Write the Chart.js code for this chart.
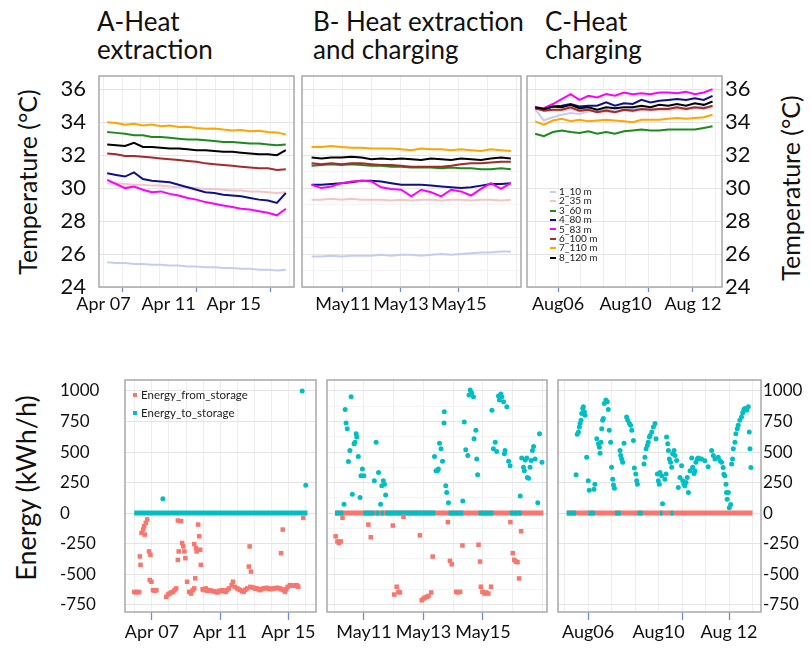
<!DOCTYPE html>
<html>
<head>
<meta charset="utf-8">
<script src="https://cdn.jsdelivr.net/npm/chart.js@4.4.1/dist/chart.umd.min.js"></script>
<style>
  body { margin: 0; background: #fff; font-family: Lato, "Open Sans", sans-serif; }
  #wrap { position: relative; width: 811px; height: 649px; overflow: hidden; }
  canvas { position: absolute; }
  .title { position: absolute; font-size: 26px; line-height: 28px; color: #111; white-space: nowrap; }
  .ylab { position: absolute; transform: translate(-50%, -50%) rotate(-90deg); white-space: nowrap; color: #111; }
  .legend { position: absolute; color: #222; white-space: nowrap; }
  .legend div { display: flex; align-items: center; }
  .dash { display: inline-block; width: 6px; height: 2px; margin-right: 3px; }
  .dot { display: inline-block; width: 4px; height: 4px; margin-right: 4px; }
</style>
</head>
<body>
<div id="wrap">
  <div class="title" style="left:97px; top:7px;">A-Heat<br>extraction</div>
  <div class="title" style="left:313px; top:7px;">B- Heat extraction<br>and charging</div>
  <div class="title" style="left:545px; top:7px;">C-Heat<br>charging</div>

  <div class="ylab" style="left:27px; top:182px; font-size:25px;">Temperature (°C)</div>
  <div class="ylab" style="left:790px; top:188px; font-size:25px;">Temperature (°C)</div>
  <div class="ylab" style="left:25px; top:488px; font-size:27px;">Energy (kWh/h)</div>

  <canvas id="tA" width="300" height="260" style="left:0; top:60px;"></canvas>
  <canvas id="tB" width="225" height="260" style="left:300px; top:60px;"></canvas>
  <canvas id="tC" width="286" height="260" style="left:525px; top:60px;"></canvas>
  <canvas id="eA" width="320" height="289" style="left:0; top:360px;"></canvas>
  <canvas id="eB" width="230" height="289" style="left:322px; top:360px;"></canvas>
  <canvas id="eC" width="259" height="289" style="left:552px; top:360px;"></canvas>

  <div class="legend" id="tempLegend" style="left:550px; top:187px; font-size:10px; line-height:9.4px;"></div>
  <div class="legend" id="energyLegend" style="left:133px; top:386px; font-size:11.5px; line-height:18px;"></div>
</div>
<script>
// ---- series / categories ----
const seriesNames = ['1_10 m', '2_35 m', '3_60 m', '4_80 m', '5_83 m', '6_100 m', '7_110 m', '8_120 m'];
const seriesColors = ['#c3cdf2', '#f6c4c4', '#1e8a1e', '#10108a', '#ff00ff', '#a52a2a', '#ffa500', '#000000'];
const energyNames = ['Energy_from_storage', 'Energy_to_storage'];
const energyColors = ['#f8766d', '#00bfc4'];

// ---- tick marks (day of month) and where their labels sit ----
const aprTicks = [7, 11, 15];
const aprLabels = ['Apr 07', 'Apr 11', 'Apr 15'];
const aprLabelDaysTop = [6, 9.5, 13];
const aprLabelDays = [7, 11, 15];
const mayTicks = [11, 13, 15];
const mayLabels = ['May11', 'May13', 'May15'];
const mayLabelDays = [11, 13, 15];
const augTicks = [6, 10, 12];
const augLabels = ['Aug06', 'Aug10', 'Aug 12'];
const augLabelDays = [6, 9, 12];

// ---- temperature (day of month) ----
const daysA = [6.2, 6.68, 7.16, 7.64, 8.12, 8.6, 9.08, 9.56, 10.04, 10.52, 11.0, 11.48, 11.96, 12.44, 12.92, 13.4, 13.88, 14.36, 14.84, 15.32, 15.8];
const tempA = [
  [25.5, 25.45, 25.45, 25.4, 25.4, 25.35, 25.35, 25.3, 25.3, 25.25, 25.25, 25.2, 25.2, 25.15, 25.15, 25.1, 25.1, 25.05, 25.05, 25.0, 25.05],
  [30.3, 30.3, 30.25, 30.2, 30.2, 30.15, 30.15, 30.1, 30.05, 30.05, 30.0, 29.95, 29.95, 29.9, 29.85, 29.85, 29.8, 29.8, 29.75, 29.7, 29.75],
  [33.4, 33.35, 33.3, 33.2, 33.2, 33.1, 33.1, 33.05, 33.0, 32.95, 32.95, 32.9, 32.85, 32.8, 32.8, 32.75, 32.7, 32.7, 32.65, 32.6, 32.65],
  [30.9, 30.8, 30.7, 30.95, 30.55, 30.45, 30.4, 30.35, 30.2, 30.05, 29.9, 29.75, 29.7, 29.6, 29.55, 29.5, 29.4, 29.3, 29.25, 29.1, 29.7],
  [30.5, 30.25, 30.0, 30.1, 29.9, 29.75, 29.8, 29.65, 29.55, 29.4, 29.3, 29.15, 29.05, 28.95, 28.85, 28.75, 28.7, 28.6, 28.5, 28.35, 28.75],
  [32.1, 32.05, 31.95, 31.95, 31.9, 31.85, 31.8, 31.75, 31.7, 31.65, 31.6, 31.5, 31.45, 31.4, 31.35, 31.3, 31.25, 31.2, 31.2, 31.1, 31.15],
  [34.0, 33.95, 33.85, 33.9, 33.8, 33.85, 33.75, 33.8, 33.7, 33.72, 33.65, 33.6, 33.62, 33.55, 33.5, 33.52, 33.45, 33.48, 33.4, 33.38, 33.25],
  [32.65, 32.6, 32.55, 32.75, 32.5, 32.5, 32.45, 32.4, 32.4, 32.35, 32.3, 32.3, 32.25, 32.2, 32.2, 32.15, 32.1, 32.05, 32.05, 32.0, 32.3]
];

const daysB = [9.92, 10.26, 10.6, 10.95, 11.29, 11.64, 11.98, 12.32, 12.67, 13.01, 13.36, 13.7, 14.04, 14.39, 14.73, 15.07, 15.42, 15.76, 16.1, 16.45, 16.79];
const tempB = [
  [25.85, 25.85, 25.9, 25.85, 25.9, 25.9, 25.9, 25.95, 25.9, 25.95, 25.95, 25.9, 25.95, 26.0, 25.95, 26.0, 26.05, 26.1, 26.1, 26.15, 26.15],
  [29.3, 29.3, 29.35, 29.3, 29.35, 29.3, 29.3, 29.3, 29.25, 29.3, 29.25, 29.3, 29.3, 29.25, 29.3, 29.3, 29.25, 29.3, 29.3, 29.25, 29.3],
  [31.35, 31.4, 31.45, 31.4, 31.45, 31.4, 31.35, 31.35, 31.3, 31.3, 31.25, 31.25, 31.25, 31.2, 31.25, 31.2, 31.2, 31.15, 31.15, 31.2, 31.15],
  [30.2, 30.2, 30.25, 30.3, 30.35, 30.45, 30.45, 30.4, 30.3, 30.2, 30.2, 30.2, 30.15, 30.1, 30.05, 30.0, 30.05, 30.15, 30.25, 30.25, 30.3],
  [30.2, 30.0, 30.1, 30.3, 30.4, 30.45, 30.4, 30.05, 29.95, 29.9, 29.5, 29.9, 29.75, 29.5, 29.9, 29.8, 29.55, 29.95, 30.3, 29.95, 30.3],
  [31.5, 31.45, 31.5, 31.45, 31.5, 31.5, 31.45, 31.4, 31.4, 31.35, 31.3, 31.3, 31.3, 31.3, 31.35, 31.45, 31.5, 31.5, 31.55, 31.6, 31.6],
  [32.5, 32.5, 32.55, 32.5, 32.45, 32.45, 32.4, 32.4, 32.4, 32.35, 32.3, 32.4, 32.35, 32.35, 32.3, 32.35, 32.3, 32.25, 32.35, 32.3, 32.25],
  [31.85, 31.8, 31.85, 31.85, 31.9, 31.85, 31.75, 31.8, 31.75, 31.8, 31.75, 31.7, 31.8, 31.75, 31.7, 31.8, 31.75, 31.7, 31.8, 31.85, 31.8]
];

const daysC = [4.98, 5.37, 5.77, 6.16, 6.56, 6.95, 7.35, 7.74, 8.14, 8.53, 8.93, 9.32, 9.71, 10.11, 10.5, 10.9, 11.29, 11.69, 12.08, 12.48, 12.87];
const tempC = [
  [34.8, 34.1, 34.3, 34.45, 34.55, 34.5, 34.65, 34.7, 34.75, 34.7, 34.75, 34.8, 34.85, 34.8, 34.85, 34.85, 34.9, 34.85, 34.9, 34.9, 34.95],
  [34.8, 34.7, 34.7, 34.7, 34.8, 34.65, 34.7, 34.6, 34.65, 34.6, 34.7, 34.65, 34.75, 34.7, 34.75, 34.75, 34.8, 34.75, 34.85, 34.8, 34.9],
  [33.3, 33.15, 33.4, 33.5, 33.4, 33.35, 33.45, 33.3, 33.4, 33.3, 33.45, 33.5, 33.55, 33.5, 33.5, 33.55, 33.55, 33.55, 33.55, 33.65, 33.75],
  [34.85, 34.75, 34.95, 35.0, 35.1, 34.95, 35.0, 35.0, 35.2, 35.0, 35.15, 35.1, 35.35, 35.2, 35.3, 35.35, 35.4, 35.35, 35.45, 35.35, 35.6],
  [34.9, 34.85, 35.1, 35.4, 35.7, 35.35, 35.6, 35.5, 35.7, 35.6, 35.8, 35.7, 35.75, 35.7, 35.8, 35.8, 35.75, 35.85, 35.7, 35.8, 36.0],
  [34.85, 34.7, 34.75, 34.75, 34.9, 34.7, 34.75, 34.6, 34.7, 34.6, 34.75, 34.7, 34.8, 34.75, 34.8, 34.8, 34.9, 34.8, 34.9, 34.85, 35.0],
  [34.05, 33.85, 34.1, 34.2, 34.05, 34.15, 34.05, 34.1, 34.15, 34.1, 34.05, 34.0, 34.15, 34.15, 34.15, 34.2, 34.25, 34.2, 34.25, 34.3, 34.45],
  [34.9, 34.8, 34.95, 34.9, 35.05, 34.85, 34.9, 34.75, 34.9, 34.85, 34.9, 34.9, 35.0, 34.9, 35.05, 35.0, 35.1, 35.0, 35.15, 35.05, 35.25]
];

// ---- energy points [day, kWh/h] ----
const fromA = [
  [5.96, -645], [6.06, -650], [6.16, -645], [6.25, -648], [6.29, -355], [6.33, -424], [6.39, -163], [6.48, -135],
  [6.54, -108], [6.64, -80], [6.72, -52], [6.58, -176], [6.83, -314], [6.91, -342], [6.87, -548], [6.97, -562],
  [7.06, -631], [7.16, -636], [7.26, -631], [7.84, -686], [7.94, -667], [8.03, -659], [8.13, -650], [8.23, -645],
  [8.32, -631], [8.42, -617], [8.52, -383], [8.57, -314], [8.52, -61], [8.71, -66], [8.77, -245], [8.84, -273],
  [8.9, -314], [8.96, -369], [9.06, -562], [9.19, -645], [9.29, -659], [9.39, -631], [9.48, -617], [9.48, -254],
  [9.58, -287], [9.62, -314], [9.71, -94], [9.77, -190], [9.83, -300], [9.87, -424], [9.54, -534],
  [9.97, -623], [10.01, -628], [10.06, -631], [10.11, -625], [10.16, -617], [10.25, -636], [10.35, -631], [10.45, -634],
  [10.55, -639], [10.64, -641], [10.74, -645], [10.84, -650], [10.93, -636], [11.03, -640], [11.13, -631], [11.22, -638],
  [11.32, -645], [11.42, -631], [11.51, -617], [11.67, -590], [11.75, -562], [11.86, -604], [12.0, -617], [12.09, -625],
  [12.19, -631], [12.29, -640], [12.38, -645], [12.48, -628], [12.58, -617], [12.77, -604], [12.87, -610], [12.97, -612],
  [13.06, -620], [13.16, -617], [13.26, -625], [13.35, -631], [13.45, -622], [13.55, -617], [13.64, -615], [13.74, -612],
  [13.84, -618], [13.93, -623], [14.03, -620], [14.13, -617], [14.22, -615], [14.32, -612], [14.42, -614], [14.51, -617],
  [14.61, -625], [14.71, -631], [14.8, -645], [14.88, -625], [14.96, -604], [15.09, -590], [15.19, -592], [15.29, -595],
  [15.38, -592], [15.48, -590], [15.53, -598], [15.58, -604], [12.73, -273], [12.68, -438], [12.81, -479], [14.57, -328],
  [14.67, -135], [15.87, -39]
];
const toA = [[7.64, 118], [15.81, 1000], [16.02, 229]];
const redZeroA = [];
const cyanZeroA = [[5.96, 16.12]];

const fromB = [
  [10.05, -190], [10.11, -232], [10.16, -245], [10.22, -232], [10.28, -39], [11.15, -94], [11.23, -198], [11.97, -102],
  [12.33, -30], [12.88, -182], [12.94, -714], [13.0, -700], [13.05, -692], [13.11, -686], [13.17, -678], [13.26, -650],
  [13.31, -356], [13.82, -74], [13.89, -391], [13.95, -419], [14.1, -645], [14.15, -650], [14.23, -645], [14.31, -265],
  [14.85, -259], [14.9, -397], [14.93, -603], [14.98, -645], [15.05, -659], [15.11, -650], [15.18, -659], [15.27, -603],
  [15.92, -74], [16.0, -328], [16.05, -383], [16.1, -397], [16.16, -402], [16.21, -535], [16.28, -149],
  [12.02, -667], [12.1, -603], [12.16, -645], [12.21, -650]
];
const toB = [
  [10.33, 72], [10.37, 848], [10.4, 738], [10.44, 691], [10.48, 422], [10.53, 512], [10.57, 953], [10.61, 154],
  [10.67, 568], [10.7, 581], [10.74, 650], [10.76, 623], [10.81, 463], [10.87, 127], [10.9, 306], [10.95, 361],
  [11.0, 306], [11.35, 264], [11.41, 581], [11.49, 333], [11.56, 72], [11.6, 223], [11.65, 264], [11.69, 237],
  [11.73, 149], [13.37, 463], [13.42, 347], [13.47, 347], [13.5, 361], [13.54, 573], [13.59, 526], [13.64, 424],
  [13.69, 738], [13.7, 829], [13.75, 223], [13.78, 168], [13.84, 85], [14.32, 99], [14.37, 747], [14.42, 518],
  [14.49, 471], [14.53, 967], [14.57, 1008], [14.62, 986], [14.68, 953], [14.7, 609], [14.76, 678], [14.79, 443],
  [14.82, 314], [15.3, 843], [15.35, 526], [15.41, 581], [15.46, 504], [15.52, 959], [15.55, 926], [15.6, 975],
  [15.63, 953], [15.69, 912], [15.72, 485], [15.74, 512], [15.8, 871], [15.86, 424], [15.91, 388], [16.25, 140],
  [16.3, 452], [16.36, 375], [16.39, 347], [16.42, 435], [16.47, 452], [16.49, 292], [16.53, 286], [16.58, 375],
  [16.62, 430], [16.66, 512], [16.7, 545], [16.75, 443], [16.84, 85], [16.9, 650], [16.98, 416]
];
const redZeroB = [[10.03, 17.03]];
const cyanZeroB = [[10.03, 10.31], [10.98, 11.35], [11.39, 11.52], [11.56, 11.67], [11.71, 13.39], [13.84, 14.34], [14.85, 15.35], [15.91, 16.3]];

const fromC = [];
const toC = [
  [5.49, 314], [5.54, 645], [5.59, 664], [5.63, 705], [5.66, 733], [5.7, 760], [5.73, 815], [5.77, 857],
  [5.8, 871], [5.84, 829], [5.87, 802], [5.94, 457], [6.01, 264], [6.05, 187], [6.25, 196], [6.29, 237],
  [6.37, 609], [6.44, 568], [6.48, 540], [6.51, 490], [6.55, 581], [6.58, 691], [6.62, 760], [6.65, 774],
  [6.69, 898], [6.76, 926], [6.82, 912], [6.86, 848], [6.9, 678], [6.96, 581], [7.0, 375], [7.05, 278],
  [7.08, 231], [7.12, 204], [7.36, 512], [7.39, 471], [7.43, 443], [7.47, 416], [7.53, 573], [7.64, 788],
  [7.69, 760], [7.76, 733], [7.81, 719], [7.86, 678], [7.93, 595], [7.97, 369], [8.03, 320], [8.07, 264],
  [8.1, 237], [8.38, 402], [8.42, 457], [8.47, 526], [8.52, 554], [8.56, 581], [8.61, 623], [8.64, 636],
  [8.71, 664], [8.78, 705], [8.85, 733], [8.89, 609], [8.95, 320], [8.99, 264], [9.03, 237], [9.06, 333],
  [9.13, 306], [9.17, 77], [9.27, 278], [9.32, 320], [9.34, 623], [9.39, 568], [9.42, 512], [9.46, 443],
  [9.51, 416], [9.56, 375], [9.6, 485], [9.66, 512], [9.7, 471], [9.77, 430], [9.84, 209], [9.91, 292],
  [9.98, 388], [10.03, 264], [10.08, 237], [10.12, 223], [10.17, 251], [10.22, 292], [10.27, 168], [10.34, 347],
  [10.41, 452], [10.45, 375], [10.51, 325], [10.55, 347], [10.59, 416], [10.65, 443], [10.69, 452], [10.76, 443],
  [10.83, 443], [10.97, 429], [11.11, 380], [11.26, 512], [11.33, 471], [11.4, 443], [11.54, 457], [11.61, 429],
  [11.68, 416], [11.75, 374], [11.78, 319], [11.82, 306], [11.87, 237], [11.89, 168], [11.92, 113], [11.97, 168],
  [12.01, 44], [12.07, 71], [12.11, 402], [12.15, 443], [12.18, 526], [12.25, 581], [12.29, 650], [12.35, 691],
  [12.39, 719], [12.46, 760], [12.53, 788], [12.58, 821], [12.63, 848], [12.67, 857], [12.75, 843], [12.82, 870],
  [12.86, 664], [12.89, 526], [12.93, 374]
];
const redZeroC = [[5.09, 13.0]];
const cyanZeroC = [[5.09, 5.49], [6.01, 6.29], [7.15, 7.39], [8.1, 8.32], [9.06, 9.17], [9.51, 9.63]];

// ---- helpers ----
Chart.defaults.font.family = 'Lato, "Open Sans", sans-serif';
Chart.defaults.color = '#111';

const panelBox = {
  id: 'panelBox',
  afterDraw(chart) {
    const { ctx, chartArea: a } = chart;
    ctx.save();
    ctx.strokeStyle = '#a8a8a8';
    ctx.lineWidth = 1.5;
    ctx.strokeRect(a.left, a.top, a.right - a.left, a.bottom - a.top);
    ctx.restore();
  }
};

function xAxis(min, max, step, ticks, labelDays, labels, tickLen, h) {
  return {
    type: 'linear', min: min, max: max,
    afterFit: s => { s.height = h; s.paddingLeft = 0; s.paddingRight = 0; },
    border: { display: false },
    grid: {
      color: c => (Number.isInteger(c.tick.value) ? '#eeeeee' : 'rgba(0,0,0,0)'),
      tickLength: tickLen,
      tickWidth: 1.3,
      tickColor: c => (c.tick && ticks.includes(c.tick.value)) ? '#6f8ed8' : 'rgba(0,0,0,0)'
    },
    ticks: {
      stepSize: step, includeBounds: false, autoSkip: false, maxRotation: 0, padding: 1,
      font: { size: 18 },
      callback: v => { const i = labelDays.indexOf(v); return i < 0 ? '' : labels[i]; }
    }
  };
}

function yTemp(position, show, w, pad) {
  return {
    type: 'linear', position: position, min: 24, max: 36.8,
    afterFit: s => { s.width = w; s.paddingTop = 0; s.paddingBottom = 0; },
    border: { display: false },
    grid: { drawTicks: false, color: c => (c.tick.value % 2 === 0 ? '#e4e4e4' : '#f3f3f3') },
    ticks: {
      display: show, stepSize: 1, includeBounds: false, padding: pad,
      font: { size: 22 },
      callback: v => (v % 2 === 0 ? String(v) : '')
    }
  };
}

function yEnergy(position, show, w, pad, crossAlign) {
  return {
    type: 'linear', position: position, min: -810, max: 1090,
    afterFit: s => { s.width = w; s.paddingTop = 0; s.paddingBottom = 0; },
    border: { display: false },
    grid: { drawTicks: false, color: c => (Math.abs(c.tick.value) % 250 === 0 ? '#e4e4e4' : '#f3f3f3') },
    ticks: {
      display: show, stepSize: 125, includeBounds: false, padding: pad, crossAlign: crossAlign,
      font: { size: 17 },
      callback: v => (Math.abs(v) % 250 === 0 ? String(v) : '')
    }
  };
}

function baseOptions(pad, x, y) {
  return {
    responsive: false, animation: false, devicePixelRatio: 1,
    layout: { padding: pad },
    plugins: { legend: { display: false }, tooltip: { enabled: false } },
    scales: { x: x, y: y }
  };
}

function tempSets(days, temps) {
  return temps.map((vals, i) => ({
    label: seriesNames[i],
    data: days.map((d, j) => ({ x: d, y: vals[j] })),
    borderColor: seriesColors[i],
    borderWidth: 2,
    pointRadius: 0,
    tension: 0,
    order: seriesNames.length - i
  }));
}

function zeroLine(seg, color, order) {
  return {
    data: [{ x: seg[0], y: 0 }, { x: seg[1], y: 0 }],
    showLine: true, borderColor: color, borderWidth: 5, pointRadius: 0, order: order
  };
}

function energySets(fromPts, toPts, redZero, cyanZero) {
  const sets = [];
  redZero.forEach(s => sets.push(zeroLine(s, energyColors[0], 4)));
  cyanZero.forEach(s => sets.push(zeroLine(s, energyColors[1], 3)));
  sets.push({
    label: energyNames[0], data: fromPts.map(p => ({ x: p[0], y: p[1] })),
    backgroundColor: energyColors[0], borderColor: energyColors[0], borderWidth: 0,
    pointStyle: 'rect', pointRadius: 3.2, order: 2
  });
  sets.push({
    label: energyNames[1], data: toPts.map(p => ({ x: p[0], y: p[1] })),
    backgroundColor: energyColors[1], borderColor: energyColors[1], borderWidth: 0,
    pointStyle: 'circle', pointRadius: 2.5, order: 1
  });
  return sets;
}

// ---- temperature panels ----
new Chart(document.getElementById('tA'), {
  type: 'line', data: { datasets: tempSets(daysA, tempA) },
  options: baseOptions({ left: 0, right: 6, top: 16, bottom: 0 },
    xAxis(5.76, 16.24, 0.5, aprTicks, aprLabelDaysTop, aprLabels, 5, 33), yTemp('left', true, 99, 13)),
  plugins: [panelBox]
});
new Chart(document.getElementById('tB'), {
  type: 'line', data: { datasets: tempSets(daysB, tempB) },
  options: baseOptions({ left: 2, right: 4, top: 16, bottom: 0 },
    xAxis(9.59, 17.14, 1, mayTicks, mayLabelDays, mayLabels, 5, 33), yTemp('left', false, 0, 0)),
  plugins: [panelBox]
});
new Chart(document.getElementById('tC'), {
  type: 'line', data: { datasets: tempSets(daysC, tempC) },
  options: baseOptions({ left: 2, right: 0, top: 16, bottom: 0 },
    xAxis(4.62, 13.29, 1, augTicks, augLabelDays, augLabels, 5, 33), yTemp('right', true, 89, 3)),
  plugins: [panelBox]
});

// ---- energy panels ----
new Chart(document.getElementById('eA'), {
  type: 'scatter', data: { datasets: energySets(fromA, toA, redZeroA, cyanZeroA) },
  options: baseOptions({ left: 60, right: 2, top: 20, bottom: 0 },
    xAxis(5.42, 16.62, 1, aprTicks, aprLabelDays, aprLabels, 8, 37), yEnergy('left', true, 65, 0, 'far')),
  plugins: [panelBox]
});
new Chart(document.getElementById('eB'), {
  type: 'scatter', data: { datasets: energySets(fromB, toB, redZeroB, cyanZeroB) },
  options: baseOptions({ left: 5, right: 5, top: 20, bottom: 0 },
    xAxis(9.76, 17.15, 1, mayTicks, mayLabelDays, mayLabels, 8, 37), yEnergy('left', false, 0, 0, 'near')),
  plugins: [panelBox]
});
new Chart(document.getElementById('eC'), {
  type: 'scatter', data: { datasets: energySets(fromC, toC, redZeroC, cyanZeroC) },
  options: baseOptions({ left: 6, right: 0, top: 20, bottom: 0 },
    xAxis(4.72, 13.36, 1, augTicks, augLabelDays, augLabels, 8, 37), yEnergy('right', true, 50, 2, 'near')),
  plugins: [panelBox]
});

// ---- legends ----
const tl = document.getElementById('tempLegend');
seriesNames.forEach((n, i) => {
  const row = document.createElement('div');
  row.innerHTML = '<span class="dash" style="background:' + seriesColors[i] + '"></span>' + n;
  tl.appendChild(row);
});
const el = document.getElementById('energyLegend');
energyNames.forEach((n, i) => {
  const row = document.createElement('div');
  row.innerHTML = '<span class="dot" style="background:' + energyColors[i] + '"></span>' + n;
  el.appendChild(row);
});
</script>
</body>
</html>
